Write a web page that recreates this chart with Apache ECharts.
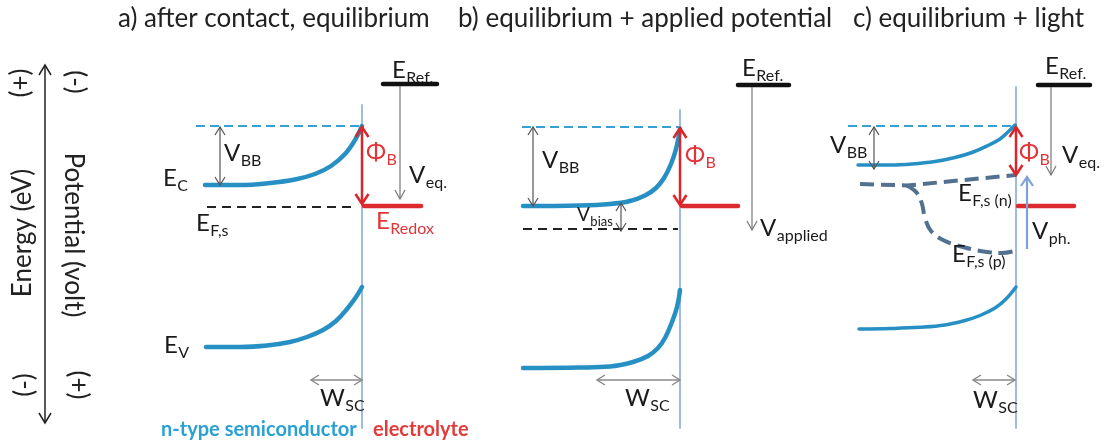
<!DOCTYPE html>
<html>
<head>
<meta charset="utf-8">
<script src="https://cdn.jsdelivr.net/npm/echarts@6/dist/echarts.min.js"></script>
<style>
  html, body { margin: 0; background: #fff; }
  #chart { width: 1105px; height: 443px; }
</style>
</head>
<body>
<div id="chart"></div>
<script>
// diagram units: x to the right, y downward (energy goes up the page)
// a) after contact, equilibrium
const ecA = [[205,185],[240,185],[270,183],[295,179.5],[315,174],[331,166],[345,154],[355,140],[362,126]];
const evA = [[206,347],[240,347],[267,345.5],[290,342],[307,337],[323,330],[336,321],[347,309],[356,297],[362,287]];
const topDashA = [[196,126],[360,126]];
const fermiA = [[207,207],[357,207]];
const interfaceA = [[362,105],[362,428]];
const redoxA = [[364,206],[421,206]];
const refA = [[383,84],[437,84]];

// b) equilibrium + applied potential
const ecB = [[523,206],[580,205.5],[610,204],[630,201],[645,195.5],[656,188],[664,178],[671,164],[676,149],[680,129]];
const evB = [[523,368],[580,367.5],[610,366.5],[633,362],[648,356],[658,348],[665,338],[672,322],[677,307],[680,290]];
const topDashB = [[522,127],[679,127]];
const fermiB = [[523,229],[678,229]];
const interfaceB = [[680,110],[680,428]];
const redoxB = [[682,206],[738,206]];
const refB = [[738,85],[789,85]];

// c) equilibrium + light
const ecC = [[858,165],[890,165],[912,164],[935,161.5],[955,157.5],[972,152.5],[988,145.5],[1000,139],[1009,131],[1015,125]];
const evC = [[859,329],[890,328.5],[920,327.3],[945,325],[965,320.5],[980,315.5],[995,308],[1006,299],[1016,287]];
const topDashC = [[848,126],[1015,126]];
const efnC = [[860,184],[907,185.5],[1016,175]];
const efpC = [[907,185.5],[917,193],[922,204],[925,218],[931,231],[943,240],[963,247],[987,252],[1002,253],[1018,250]];
const interfaceC = [[1016,87],[1016,428]];
const redoxC = [[1018,206],[1074,206]];
const refC = [[1038,85],[1090,85]];

// arrows [x1, y1, x2, y2]
const bandGapArrows = [[220,127,220,185],[533,127,533,206],[874,127,874,169],[621,203,621,231]];
const wscArrows = [[311,380,362,380],[597,380,680,380],[973,380,1015,380]];
const potentialArrows = [[400,86,400,199],[752,87,752,230],[1051,87,1051,175]];
const barrierArrows = [[362,127,362,204],[680,128,680,205],[1016,127,1016,175]];
const photoArrows = [[1027,249,1027,177]];
const energyAxis = [[45,65,45,423]];

// labels [main, subscript, x, y]
const blackLabels = [
  ['E','C',163,178], ['E','F,s',196,223], ['E','V',164,345], ['V','BB',224,153],
  ['E','Ref.',392,70], ['V','eq.',409,175], ['W','SC',320,398],
  ['V','BB',542,160], ['E','Ref.',742,68], ['V','applied',760,228], ['W','SC',625,398],
  ['V','BB',830,145], ['E','Ref.',1045,66], ['V','eq.',1062,155],
  ['E','F,s (n)',958,193], ['V','ph.',1032,231], ['E','F,s (p)',952,254], ['W','SC',973,400]
];
const smallLabels = [['V','bias',577,215]];
const redLabels = [['Φ','B',366,152], ['E','Redox',376,221], ['Φ','B',685,155], ['Φ','B',1019,152]];

const sideText = ['(+)','(-)','Energy (eV)','Potential (volt)','(-)','(+)'];
const sidePos = [[21,83],[75,82],[23,233],[73,235],[25,385],[78,385]];

const titles = ['a) after contact, equilibrium','b) equilibrium + applied potential','c) equilibrium + light'];

const FONT = 'Lato';
const ctx = document.createElement('canvas').getContext('2d');
function textWidth(t, size) {
  ctx.font = size + 'px ' + FONT;
  return ctx.measureText(t).width;
}

function lineSeries(data, color, width, dash, smooth, z) {
  return {
    type: 'line', data: data, symbol: 'none', silent: true, z: z || 2,
    smooth: smooth ? 0.4 : false,
    lineStyle: { color: color, width: width, type: dash || 'solid', cap: dash ? 'butt' : 'round' }
  };
}

function chevron(from, to, h, style) {
  const dx = to[0] - from[0], dy = to[1] - from[1];
  const len = Math.hypot(dx, dy);
  const ux = dx / len, uy = dy / len;
  const bx = to[0] - ux * h[0], by = to[1] - uy * h[0];
  return {
    type: 'polyline',
    shape: { points: [[bx - uy * h[1], by + ux * h[1]], to, [bx + uy * h[1], by - ux * h[1]]] },
    style: style
  };
}

function arrowSeries(list, color, width, head, both) {
  return {
    type: 'custom', coordinateSystem: 'cartesian2d', silent: true, z: 5,
    data: list,
    renderItem: function (params, api) {
      const a = api.coord([api.value(0), api.value(1)]);
      const b = api.coord([api.value(2), api.value(3)]);
      const style = { stroke: color, lineWidth: width, fill: null };
      const kids = [{ type: 'line', shape: { x1: a[0], y1: a[1], x2: b[0], y2: b[1] }, style: style }];
      kids.push(chevron(a, b, head, style));
      if (both) kids.push(chevron(b, a, head, style));
      return { type: 'group', children: kids };
    }
  };
}

function labelSeries(list, color, size, subSize) {
  return {
    type: 'custom', coordinateSystem: 'cartesian2d', silent: true, z: 6,
    data: list.map(function (l) { return [l[2], l[3]]; }),
    renderItem: function (params, api) {
      const p = api.coord([api.value(0), api.value(1)]);
      const l = list[params.dataIndex];
      const w = textWidth(l[0], size);
      return {
        type: 'group',
        children: [
          { type: 'text', x: p[0], y: p[1],
            style: { text: l[0], fontSize: size, fontFamily: FONT, fill: color, align: 'left', verticalAlign: 'middle' } },
          { type: 'text', x: p[0] + w + 0.5, y: p[1] + size * 0.34,
            style: { text: l[1], fontSize: subSize, fontFamily: FONT, fill: color, align: 'left', verticalAlign: 'middle' } }
        ]
      };
    }
  };
}

const sideSeries = {
  type: 'custom', coordinateSystem: 'cartesian2d', silent: true, z: 6,
  data: sidePos,
  renderItem: function (params, api) {
    const x = api.value(0);
    const p = api.coord([x, api.value(1)]);
    return {
      type: 'text', x: p[0], y: p[1], rotation: x < 45 ? Math.PI / 2 : -Math.PI / 2,
      style: { text: sideText[params.dataIndex], fontSize: 26, fontFamily: FONT, fill: '#222',
               align: 'center', verticalAlign: 'middle' }
    };
  }
};

const titleStyle = { fontFamily: FONT, fontSize: 26, fontWeight: 'normal', color: '#222' };
const footStyle = { fontFamily: FONT, fontSize: 20, fontWeight: 'bold' };
const BAND = '#2690c4';
const chart = echarts.init(document.getElementById('chart'), null, { renderer: 'canvas' });
chart.setOption({
  animation: false,
  backgroundColor: '#fff',
  title: [
    { text: titles[0], left: 118, top: 6, padding: 0, textStyle: titleStyle },
    { text: titles[1], left: 458, top: 6, padding: 0, textStyle: titleStyle },
    { text: titles[2], left: 853, top: 6, padding: 0, textStyle: titleStyle },
    { text: 'n-type semiconductor', left: 161, top: 420, padding: 0, textStyle: Object.assign({ color: '#2aa1d3' }, footStyle) },
    { text: 'electrolyte', left: 373, top: 420, padding: 0, textStyle: Object.assign({ color: '#e23b3b' }, footStyle) }
  ],
  grid: { left: 0, right: 0, top: 0, bottom: 0 },
  xAxis: { type: 'value', min: 0, max: 1105, show: false },
  yAxis: { type: 'value', min: 0, max: 443, inverse: true, show: false },
  series: [
    lineSeries(interfaceA, '#9dbde0', 2, null, false, 1), lineSeries(interfaceB, '#9dbde0', 2, null, false, 1), lineSeries(interfaceC, '#9dbde0', 2, null, false, 1),
    lineSeries(topDashA, '#3a9fd3', 1.8, [9, 5]), lineSeries(topDashB, '#3a9fd3', 1.8, [9, 5]), lineSeries(topDashC, '#3a9fd3', 1.8, [9, 5]),
    lineSeries(fermiA, '#222', 2, [9, 6]), lineSeries(fermiB, '#222', 2, [9, 6]),
    lineSeries(efnC, '#52708f', 4, [14, 7]), lineSeries(efpC, '#52708f', 4, [14, 7], true),
    lineSeries(ecA, BAND, 4.5, null, true), lineSeries(evA, BAND, 4.5, null, true),
    lineSeries(ecB, BAND, 4.5, null, true), lineSeries(evB, BAND, 4.5, null, true),
    lineSeries(ecC, BAND, 3.5, null, true), lineSeries(evC, BAND, 3.5, null, true),
    lineSeries(redoxA, '#dd2a2e', 4.5), lineSeries(redoxB, '#dd2a2e', 4.5), lineSeries(redoxC, '#dd2a2e', 4.5),
    lineSeries(refA, '#111', 4.5), lineSeries(refB, '#111', 4.5), lineSeries(refC, '#111', 4.5),
    arrowSeries(bandGapArrows, '#555', 1.2, [8, 5], true),
    arrowSeries(wscArrows, '#888', 1.4, [8, 5], true),
    arrowSeries(potentialArrows, '#777', 1.2, [9, 5], false),
    arrowSeries(barrierArrows, '#d8262b', 2.5, [10, 6.5], true),
    arrowSeries(photoArrows, '#7ea2d6', 2.2, [9, 6], false),
    arrowSeries(energyAxis, '#222', 1.5, [10, 6], true),
    labelSeries(blackLabels, '#1a1a1a', 24, 16),
    labelSeries(smallLabels, '#1a1a1a', 19, 13),
    labelSeries(redLabels, '#e0363a', 24, 16),
    sideSeries
  ]
});
</script>
</body>
</html>
